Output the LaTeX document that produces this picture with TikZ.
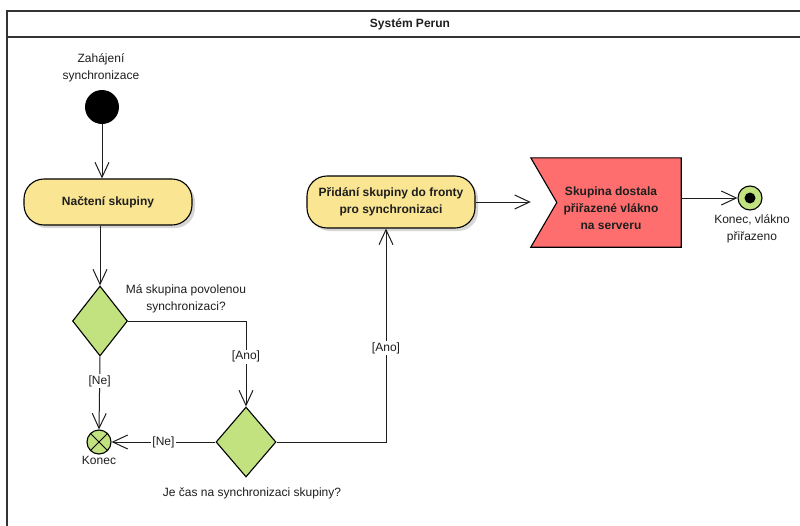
\documentclass[tikz,border=0pt]{standalone}
\usepackage{fontspec}
\setmainfont{Liberation Sans}
\usetikzlibrary{arrows.meta,shapes.geometric,shadows}

\definecolor{actfill}{HTML}{FAE592}
\definecolor{decfill}{HTML}{C2E27F}
\definecolor{sigfill}{HTML}{FF6E6E}
\definecolor{shadowgray}{HTML}{D6D6D6}
\definecolor{ink}{HTML}{1E1E1E}

\begin{document}
\begin{tikzpicture}[x=1pt,y=-1pt,
  txt/.style={font=\fontsize{12}{17}\selectfont, text=ink, align=center, inner sep=1pt},
  btxt/.style={txt, font=\fontsize{12}{17}\selectfont\bfseries},
  action/.style={btxt, draw=black, line width=1.1pt, fill=actfill, rounded corners=20pt,
    drop shadow={shadow xshift=3pt, shadow yshift=-3pt, fill=shadowgray, opacity=1},
    inner sep=0pt},
  decision/.style={diamond, draw=black, line width=1.1pt, fill=decfill, inner sep=0pt},
  flow/.style={line width=1pt, draw=ink},
  arr/.style={flow, -{Straight Barb[length=15pt, width=14pt, line width=1pt]}},
  guard/.style={txt, fill=white, inner sep=1.5pt},
  pin/.style={circle, inner sep=0pt},
]
\useasboundingbox (0,0) rectangle (800,525);
\fill[white] (0,0) rectangle (800,525);

% swimlane frame with title bar
\draw[line width=1.2pt, black!80] (7,530) -- (7,11) -- (805,11);
\draw[line width=1.2pt, black!80] (7,37) -- (805,37);
\node[btxt] (title) at (410,24) {Systém Perun};

% start node
\node[pin, fill=black, minimum size=34pt] (start) at (102,107) {};
\node[txt] (lstart) at (101,68) {Zahájení\\synchronizace};

% actions
\node[action, minimum width=168pt, minimum height=46pt] (load) at (108,202) {Načtení skupiny};
\node[action, minimum width=168pt, minimum height=52pt] (add) at (391,202) {Přidání skupiny do fronty\\pro synchronizaci};

% decisions
\node[decision, minimum width=55pt, minimum height=70pt] (d1) at (100,321) {};
\node[txt] (lq1) at (186,299) {Má skupina povolenou\\synchronizaci?};
\node[decision, minimum width=60pt, minimum height=70pt] (d2) at (246,442) {};
\node[txt] (lq2) at (252,493) {Je čas na synchronizaci skupiny?};

% flow final
\node[pin, draw=black, line width=1.1pt, fill=decfill, minimum size=24pt] (k1) at (99,442) {};
\draw[line width=1pt, black] (k1.north west) -- (k1.south east) (k1.north east) -- (k1.south west);
\node[txt] (lend1) at (99,460) {Konec};

% accept signal shape
\node[minimum width=150pt, minimum height=89pt, inner sep=0pt] (sig) at (606,202.5) {};
\fill[shadowgray, shift={(3,3)}] (sig.north west) -- (sig.north east) -- (sig.south east)
  -- (sig.south west) -- ([xshift=26pt]sig.west) -- cycle;
\draw[line width=1.1pt, fill=sigfill] (sig.north west) -- (sig.north east) -- (sig.south east)
  -- (sig.south west) -- ([xshift=26pt]sig.west) -- cycle;
\node[btxt] (sigtext) at (611,208) {Skupina dostala\\přiřazené vlákno\\na serveru};

% activity final
\node[pin, draw=black, line width=1.1pt, fill=decfill, minimum size=24pt] (fin) at (750,198) {};
\node[pin, fill=black, minimum size=11pt] (fincore) at (fin.center) {};
\node[txt] (lend2) at (752,229) {Konec, vlákno\\přiřazeno};

% connectors
\draw[arr] (start.south) -- (start.south |- load.north);
\draw[arr] (load.south -| d1.north) -- (d1.north);
\draw[arr] (d1.south) -- node[guard, pos=0.34] {[Ne]} (k1.north);
\draw[arr] (d1.east) -| node[guard, pos=0.71] {[Ano]} (d2.north);
\draw[arr] (d2.west) -- node[guard] {[Ne]} (k1.east);
\draw[arr] (d2.east) -| node[guard, pos=0.72] {[Ano]} ([xshift=-5pt]add.south);
\draw[arr] (add.east) -- (add.east -| sig.west);
\draw[arr] (sig.east |- fin.west) -- (fin.west);
\end{tikzpicture}
\end{document}
